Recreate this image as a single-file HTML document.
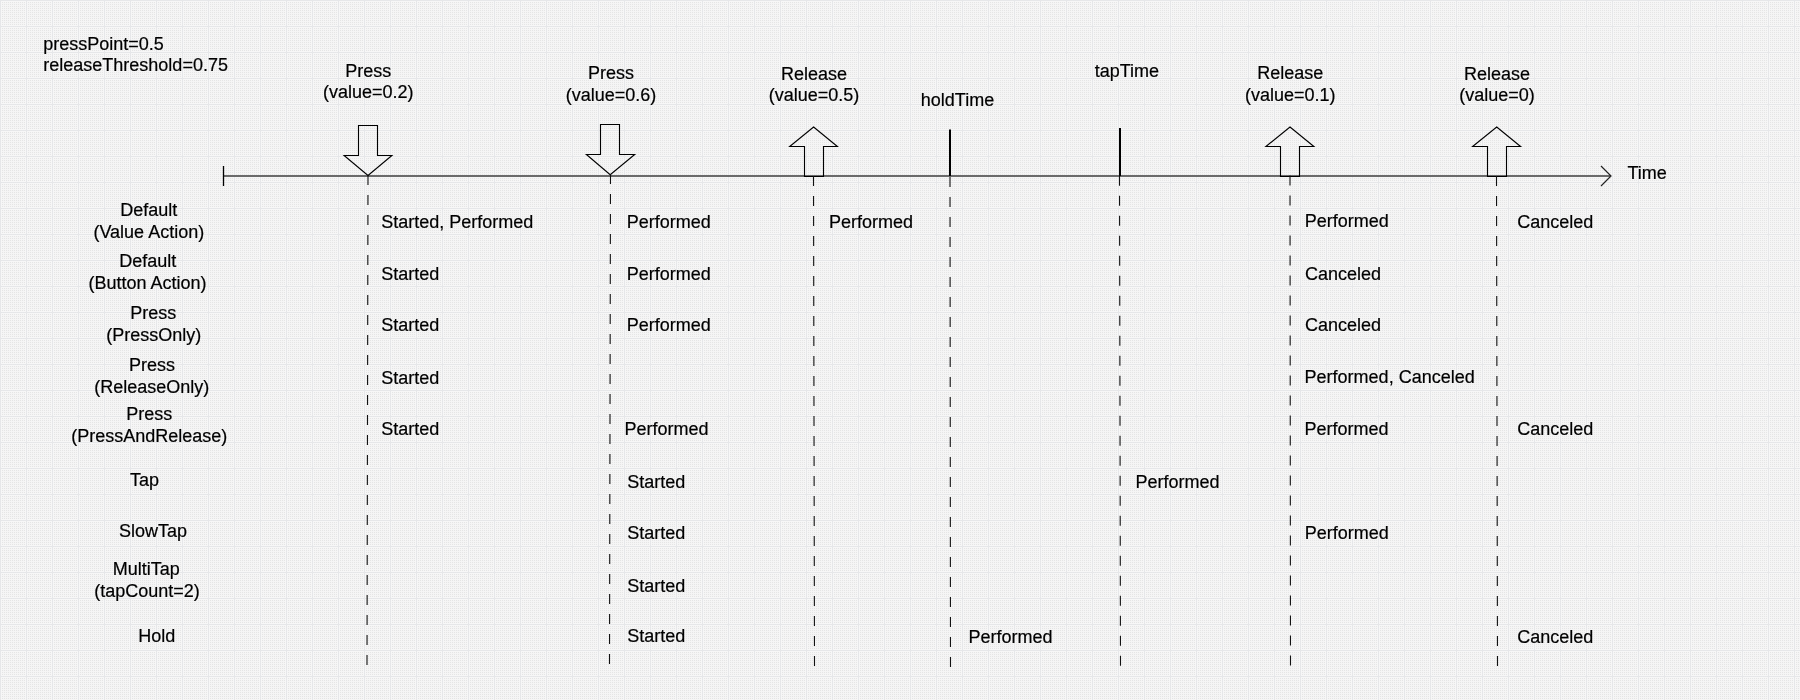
<!DOCTYPE html>
<html><head><meta charset="utf-8">
<style>
html,body{margin:0;padding:0;width:1800px;height:700px;overflow:hidden;background:#f5f5f5;}
svg{position:absolute;left:0;top:0;display:block;will-change:transform;}
text{font-family:"Liberation Sans",sans-serif;font-size:18px;fill:#000;stroke:#000;stroke-width:0.2px;}
</style></head><body>
<svg width="1800" height="700" viewBox="0 0 1800 700" shape-rendering="auto">
<defs>
<pattern id="dots" x="0" y="0" width="2" height="2" patternUnits="userSpaceOnUse">
<rect x="0" y="0" width="1" height="1" fill="#e5e5e5"/>
</pattern>
<pattern id="grid" x="0" y="0" width="26" height="26" patternUnits="userSpaceOnUse">
<rect x="0" y="1" width="26" height="1" fill="#f7f7f7"/>
<rect x="0" y="25" width="26" height="1" fill="#f7f7f7"/>
<rect x="1" y="0" width="1" height="26" fill="#f7f7f7"/>
<rect x="25" y="0" width="1" height="26" fill="#f7f7f7"/>
<rect x="0" y="0" width="26" height="1" fill="#e6e7e9"/>
<rect x="0" y="0" width="1" height="26" fill="#e6e7e9"/>
</pattern>
</defs>
<rect x="0" y="0" width="1800" height="700" fill="#f5f5f5"/>
<rect x="0" y="0" width="1800" height="700" fill="url(#dots)" shape-rendering="crispEdges"/>
<rect x="0" y="0" width="1800" height="700" fill="url(#grid)" shape-rendering="crispEdges"/>

<!-- parameters -->
<text x="43.3" y="50">pressPoint=0.5</text>
<text x="43.3" y="70.5">releaseThreshold=0.75</text>

<!-- top labels -->
<g text-anchor="middle">
<text x="368.3" y="76.8">Press</text>
<text x="368.3" y="97.9">(value=0.2)</text>
<text x="611" y="78.6">Press</text>
<text x="611" y="100.6">(value=0.6)</text>
<text x="814" y="79.7">Release</text>
<text x="814" y="100.6">(value=0.5)</text>
<text x="957.5" y="105.8">holdTime</text>
<text x="1126.9" y="76.7">tapTime</text>
<text x="1290.2" y="78.6">Release</text>
<text x="1290.2" y="101">(value=0.1)</text>
<text x="1497" y="80.4">Release</text>
<text x="1497" y="101">(value=0)</text>
</g>
<text x="1627.5" y="178.9">Time</text>

<!-- timeline -->
<line x1="223.4" y1="176" x2="1610" y2="176" stroke="#6a6a6a" stroke-width="2"/>
<line x1="223.5" y1="166" x2="223.5" y2="186" stroke="#000" stroke-width="1.3"/>
<polyline points="1601,166 1611,176 1601,186" fill="none" stroke="#222" stroke-width="1.2"/>

<!-- markers -->
<line x1="950" y1="129.5" x2="950" y2="176" stroke="#000" stroke-width="2"/>
<line x1="1120" y1="128" x2="1120" y2="176" stroke="#000" stroke-width="2"/>

<!-- arrows -->
<g fill="none" stroke="#000" stroke-width="1.1" stroke-linejoin="miter">
<path d="M358.5,125.5 H377.5 V155.5 H391.9 L368,175.5 L344.1,155.5 H358.5 Z"/>
<path d="M600.5,124.5 H619.5 V154.5 H634.7 L610.2,174.7 L586.4,154.5 H600.5 Z"/>
<path d="M813.6,127 L837.4,146.5 H823.5 V176.5 H804.5 V146.5 H789.7 Z"/>
<path d="M1290,127 L1313.9,146.5 H1299.5 V176.5 H1280.5 V146.5 H1265.9 Z"/>
<path d="M1496.7,127 L1520.6,146.5 H1506.5 V176.5 H1487.5 V146.5 H1472.6 Z"/>
</g>

<!-- dashed lines -->
<g stroke="#111" stroke-width="1.1" stroke-dasharray="10 10" fill="none">
<line x1="368" y1="175" x2="367" y2="665"/>
<line x1="610.5" y1="174" x2="609.5" y2="664.6"/>
<line x1="813.5" y1="176" x2="814.5" y2="666"/>
<line x1="950" y1="177" x2="950.5" y2="667.4"/>
<line x1="1119.5" y1="175.8" x2="1120.5" y2="666"/>
<line x1="1290" y1="175.5" x2="1290.5" y2="666"/>
<line x1="1496.5" y1="176" x2="1497.5" y2="666"/>
</g>

<!-- row labels -->
<g text-anchor="middle">
<text x="148.8" y="215.7">Default</text>
<text x="148.8" y="237.6">(Value Action)</text>
<text x="147.8" y="267.4">Default</text>
<text x="147.5" y="289">(Button Action)</text>
<text x="153.2" y="318.6">Press</text>
<text x="153.8" y="340.7">(PressOnly)</text>
<text x="152.1" y="371.4">Press</text>
<text x="151.8" y="393">(ReleaseOnly)</text>
<text x="149.3" y="419.6">Press</text>
<text x="149.3" y="442">(PressAndRelease)</text>
<text x="144.6" y="486.3">Tap</text>
<text x="152.9" y="536.8">SlowTap</text>
<text x="146.2" y="575.4">MultiTap</text>
<text x="147" y="597">(tapCount=2)</text>
<text x="156.8" y="642">Hold</text>
</g>

<!-- events -->
<text x="381.2" y="227.9">Started, Performed</text>
<text x="381.2" y="279.7">Started</text>
<text x="381.2" y="330.6">Started</text>
<text x="381.2" y="383.5">Started</text>
<text x="381.2" y="434.9">Started</text>

<text x="626.7" y="227.8">Performed</text>
<text x="626.7" y="279.6">Performed</text>
<text x="626.7" y="330.6">Performed</text>
<text x="624.6" y="434.6">Performed</text>
<text x="627.3" y="487.5">Started</text>
<text x="627.3" y="538.9">Started</text>
<text x="627.3" y="591.9">Started</text>
<text x="627.3" y="642.2">Started</text>

<text x="829" y="227.7">Performed</text>
<text x="968.6" y="642.8">Performed</text>
<text x="1135.6" y="487.7">Performed</text>

<text x="1304.8" y="226.8">Performed</text>
<text x="1305" y="280.3">Canceled</text>
<text x="1305" y="330.6">Canceled</text>
<text x="1304.6" y="382.6">Performed, Canceled</text>
<text x="1304.6" y="434.6">Performed</text>
<text x="1304.7" y="538.8">Performed</text>

<text x="1517.2" y="227.7">Canceled</text>
<text x="1517.2" y="434.6">Canceled</text>
<text x="1517.2" y="642.8">Canceled</text>
</svg>
</body></html>
